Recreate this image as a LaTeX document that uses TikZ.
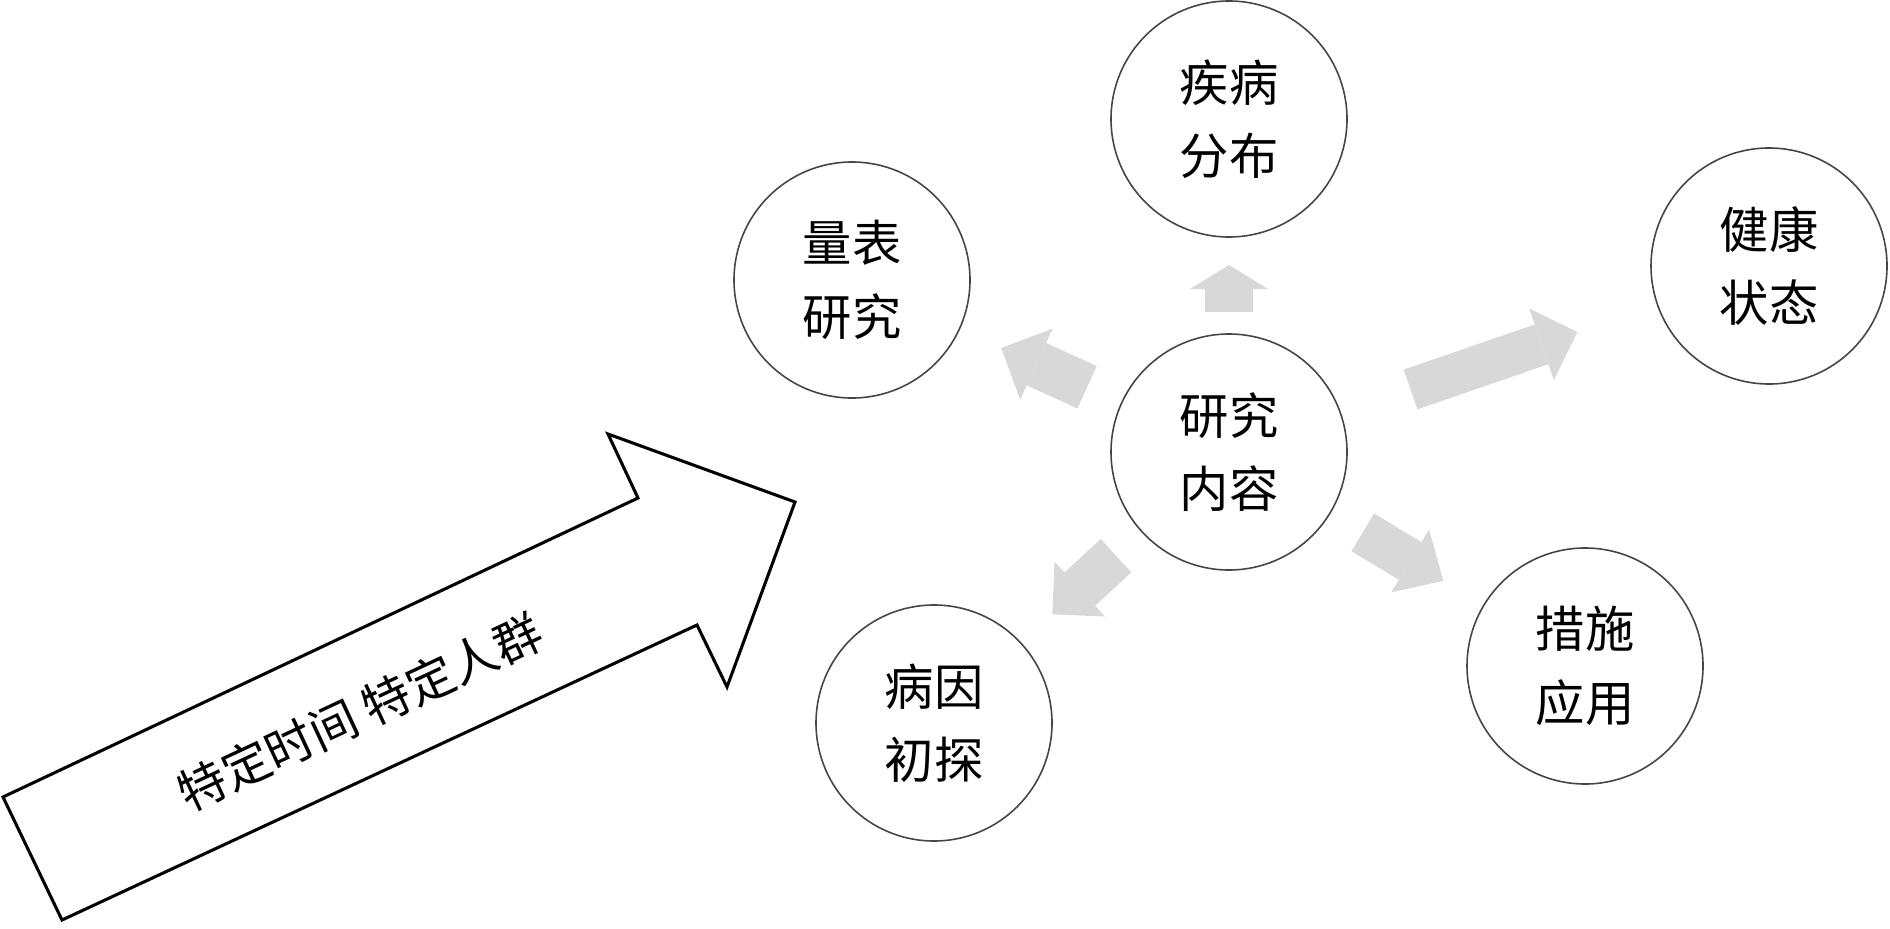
\documentclass[tikz,border=0pt]{standalone}
\usepackage{fontspec}
\newfontfamily\cjk{Noto Sans CJK SC}
\usetikzlibrary{arrows.meta}

\tikzset{every picture/.style={line width=0.75pt}}
\tikzset{
  topic/.style={circle, draw={rgb, 255:red, 70; green, 70; blue, 70}, line width=1.2pt, minimum size=177pt, inner sep=0pt, align=center, font=\cjk\fontsize{37}{55}\selectfont},
  flow/.style={draw={rgb, 255:red, 216; green, 216; blue, 216}, line width=34pt, -{Triangle[length=28.5pt,width=57pt,line width=0pt]}},
}

\begin{document}
\begin{tikzpicture}[x=0.75pt,y=0.75pt,yscale=-1,xscale=1]
\useasboundingbox (0,0) rectangle (1890,928);

%Shape: Circle [id:core] 
\node [topic] (core) at (1229,452) {研究\\内容};
%Shape: Circle [id:dist] 
\node [topic] (dist) at (1229,119) {疾病\\分布};
%Shape: Circle [id:scale] 
\node [topic] (scale) at (852,280) {量表\\研究};
%Shape: Circle [id:health] 
\node [topic] (health) at (1769,266) {健康\\状态};
%Shape: Circle [id:cause] 
\node [topic] (cause) at (934,723) {病因\\初探};
%Shape: Circle [id:measure] 
\node [topic] (measure) at (1585,666) {措施\\应用};

%Straight Lines [id:up] 
\draw [flow, line width=36pt, shorten <=105pt, shorten >=109.5pt, -{Triangle[length=18pt,width=58.5pt,line width=0pt]}] (core.center) -- (dist.center);
%Straight Lines [id:upleft] 
\draw [flow, line width=35pt, shorten <=117pt, shorten >=123pt, -{Triangle[length=29pt,width=58.5pt,line width=0pt]}] (core.center) -- (scale.center);
%Straight Lines [id:downleft] 
\draw [flow, shorten <=115pt, shorten >=120.5pt, -{Triangle[length=28pt,width=56pt,line width=0pt]}] (core.center) -- (cause.center);
%Straight Lines [id:downright] 
\draw [flow, line width=33pt, shorten <=117pt, shorten >=124pt, -{Triangle[length=29pt,width=55pt,line width=0pt]}] (core.center) -- (measure.center);
%Straight Lines [id:right] 
\draw [flow, line width=31.5pt, shorten <=144pt, shorten >=152pt] (core.center) -- (health.center);

%Shape: Right Arrow [id:span] 
\draw [line width=2.3pt, line join=miter] (3,797) -- (62,920) -- (697,625) -- (727,687) -- (795,502) -- (608,434) -- (638,498) -- cycle ;

% Text Node
\node [inner sep=0.75pt, font=\cjk\fontsize{36}{44}\selectfont, rotate=25] (scope) at (360,712) {特定时间 特定人群};

\end{tikzpicture}
\end{document}
